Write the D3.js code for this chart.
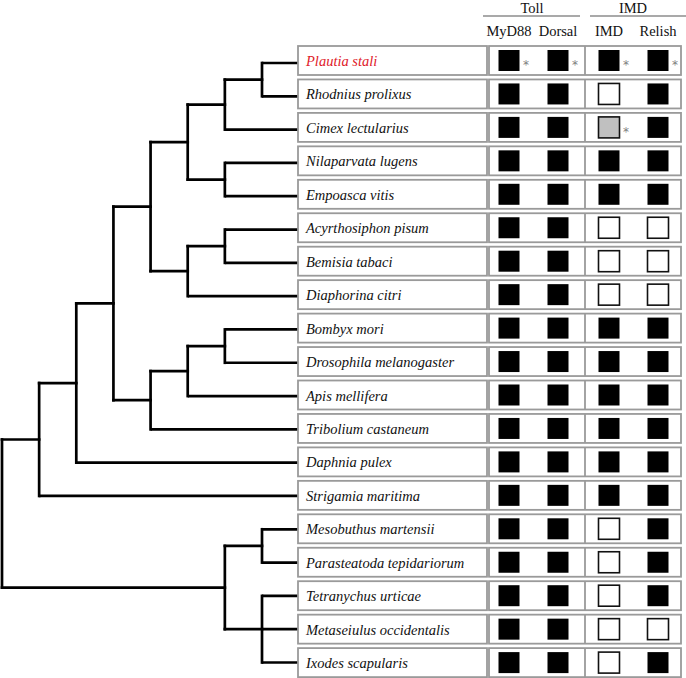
<!DOCTYPE html>
<html><head><meta charset="utf-8">
<script src="https://cdn.jsdelivr.net/npm/d3@7"></script>
<style>html,body{margin:0;padding:0;background:#fff}svg{display:block}</style>
</head><body>
<svg id="chart" width="686" height="678"></svg>
<script>
// ---- data ----
const species = ["Plautia stali","Rhodnius prolixus","Cimex lectularius","Nilaparvata lugens","Empoasca vitis",
  "Acyrthosiphon pisum","Bemisia tabaci","Diaphorina citri","Bombyx mori","Drosophila melanogaster",
  "Apis mellifera","Tribolium castaneum","Daphnia pulex","Strigamia maritima","Mesobuthus martensii",
  "Parasteatoda tepidariorum","Tetranychus urticae","Metaseiulus occidentalis","Ixodes scapularis"];
const highlighted = ["Plautia stali"];
const groups = ["Toll","IMD"];
const genes = ["MyD88","Dorsal","IMD","Relish"];
const geneGroup = ["Toll","Toll","IMD","IMD"];
// 1 = present, 0 = absent, 0.5 = partial (grey)
const MyD88  = [1,1,1,1,1,1,1,1,1,1,1,1,1,1,1,1,1,1,1];
const Dorsal = [1,1,1,1,1,1,1,1,1,1,1,1,1,1,1,1,1,1,1];
const IMD    = [1,0,0.5,1,1,0,0,0,1,1,1,1,1,1,0,0,0,0,0];
const Relish = [1,1,1,1,1,0,0,0,1,1,1,1,1,1,1,1,1,0,1];
const starred = [["Plautia stali","MyD88"],["Plautia stali","Dorsal"],["Plautia stali","IMD"],["Plautia stali","Relish"],["Cimex lectularius","IMD"]];
// tree: node level (l) and children (c); leaves are species names
const tree = {l:0,c:[
  {l:1,c:[
    {l:2,c:[
      {l:3,c:[
        {l:4,c:[
          {l:5,c:[
            {l:6,c:[{l:7,c:["Plautia stali","Rhodnius prolixus"]},"Cimex lectularius"]},
            {l:6,c:["Nilaparvata lugens","Empoasca vitis"]}]},
          {l:5,c:[{l:6,c:["Acyrthosiphon pisum","Bemisia tabaci"]},"Diaphorina citri"]}]},
        {l:4,c:[
          {l:5,c:[{l:6,c:["Bombyx mori","Drosophila melanogaster"]},"Apis mellifera"]},
          "Tribolium castaneum"]}]},
      "Daphnia pulex"]},
    "Strigamia maritima"]},
  {l:6,c:[
    {l:7,c:["Mesobuthus martensii","Parasteatoda tepidariorum"]},
    {l:7,c:["Tetranychus urticae","Metaseiulus occidentalis","Ixodes scapularis"]}]}]};

const values = {MyD88, Dorsal, IMD, Relish};

// ---- layout ----
const svg = d3.select("#chart");
const rowY = d3.scalePoint().domain(species).range([60.5, 662.6]);
const treeY = d3.scalePoint().domain(species).range([63, 662.5]);
const levelX = d3.scaleLinear().domain([0,7]).range([2, 262]);
const leafX = 298;
const boxH = 29;
const labelBox = [298, 487];
const dataBox = [489, 681];
const groupDiv = 585;
const geneX = d3.scaleOrdinal().domain(genes).range([509, 558, 609, 658]);
const sq = 21;
const serif = "'Liberation Serif','Times New Roman',serif";
const fill = v => v === 1 ? "#000" : v === 0 ? "#fff" : "#c0c0c0";

// ---- tree ----
const root = d3.hierarchy(tree, d => (typeof d === "string") ? null : d.c);
root.eachAfter(n => {
  if (!n.children) { n.y0 = treeY(n.data); n.x0 = leafX; }
  else {
    n.x0 = levelX(n.data.l);
    n.y0 = (n.children[0].y0 + n.children[n.children.length-1].y0) / 2;
  }
});
const gTree = svg.append("g").attr("fill","none").attr("stroke","#000").attr("stroke-width",2.7).attr("stroke-linecap","square");
root.descendants().filter(n => n.children).forEach(n => {
  const ys = n.children.map(c => c.y0);
  gTree.append("line").attr("x1", n.x0).attr("x2", n.x0).attr("y1", d3.min(ys)).attr("y2", d3.max(ys));
});
root.descendants().filter(n => n.parent).forEach(n => {
  gTree.append("line").attr("x1", n.parent.x0).attr("x2", n.x0).attr("y1", n.y0).attr("y2", n.y0)
    .attr("stroke-linecap", n.children ? "square" : "butt");
});

// ---- rows ----
const rows = svg.append("g").selectAll("g").data(species).join("g")
  .attr("transform", d => `translate(0,${rowY(d)})`);
rows.append("rect").attr("x", labelBox[0]).attr("y", -boxH/2).attr("width", labelBox[1]-labelBox[0]).attr("height", boxH)
  .attr("fill","#fff").attr("stroke","#9a9a9a").attr("stroke-width",1.8);
rows.append("rect").attr("x", dataBox[0]).attr("y", -boxH/2).attr("width", dataBox[1]-dataBox[0]).attr("height", boxH)
  .attr("fill","#fff").attr("stroke","#9a9a9a").attr("stroke-width",1.8);
rows.append("line").attr("x1", groupDiv).attr("x2", groupDiv).attr("y1", -boxH/2).attr("y2", boxH/2)
  .attr("stroke","#9a9a9a").attr("stroke-width",1.8);
rows.append("text").attr("x", 306).attr("y", 5.5)
  .attr("font-family", serif).attr("font-style","italic").attr("font-size", 14.5)
  .attr("fill", d => highlighted.includes(d) ? "#e0202a" : "#111").text(d => d);

species.forEach((s, i) => {
  genes.forEach(g => {
    const v = values[g][i];
    const row = svg.append("g");
    row.append("rect").attr("x", geneX(g) - sq/2).attr("y", rowY(s) - sq/2).attr("width", sq).attr("height", sq)
      .attr("fill", fill(v)).attr("stroke", v === 1 ? "none" : "#111").attr("stroke-width", 1.6);
    if (starred.some(p => p[0] === s && p[1] === g)) {
      row.append("text").attr("x", geneX(g) + 17).attr("y", rowY(s) + 8.5).attr("text-anchor","middle")
        .attr("font-family", "'DejaVu Sans',sans-serif").attr("font-size", 12).attr("fill","#808080").text("*");
    }
  });
});

// ---- header ----
const groupSpan = {Toll:[483,580], IMD:[590,686]};
groups.forEach(gr => {
  const [a,b] = groupSpan[gr];
  svg.append("text").attr("x", (gr==="Toll") ? 532 : 633).attr("y", 13).attr("text-anchor","middle")
    .attr("font-family", serif).attr("font-size", 14.5).attr("fill","#111").text(gr);
  svg.append("line").attr("x1", a).attr("x2", b).attr("y1", 16).attr("y2", 16).attr("stroke","#555").attr("stroke-width",1.2);
});
genes.forEach(g => {
  svg.append("text").attr("x", geneX(g)).attr("y", 36).attr("text-anchor","middle")
    .attr("font-family", serif).attr("font-size", 14.5).attr("fill","#111").text(g);
});
</script>
</body></html>
